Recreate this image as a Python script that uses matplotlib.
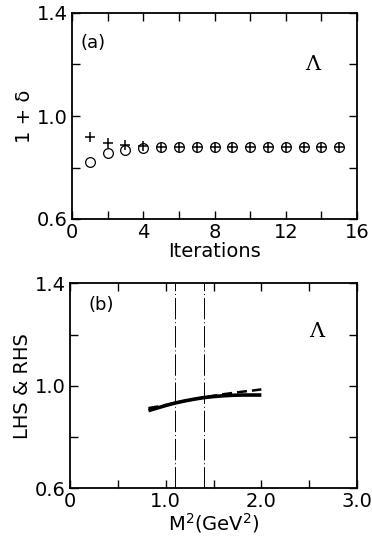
import matplotlib
matplotlib.use("Agg")
import matplotlib.pyplot as plt
from matplotlib.ticker import MultipleLocator, FixedLocator

plt.rcParams['font.family'] = ['DejaVu Sans']

# Panel (a) data
iterations = [1, 2, 3, 4, 5, 6, 7, 8, 9, 10, 11, 12, 13, 14, 15]
plus_vals = [0.920, 0.896, 0.887, 0.883, 0.881, 0.881, 0.881, 0.881, 0.881, 0.881, 0.881, 0.881, 0.881, 0.881, 0.881]
circ_vals = [0.820, 0.857, 0.868, 0.876, 0.881, 0.881, 0.881, 0.881, 0.881, 0.881, 0.881, 0.881, 0.881, 0.881, 0.881]

# Panel (b) data
m2 = [0.82, 0.9, 1.0, 1.1, 1.2, 1.3, 1.4, 1.5, 1.6, 1.7, 1.8, 1.9, 2.0]
lhs_solid = [0.903, 0.912, 0.923, 0.933, 0.941, 0.948, 0.954, 0.958, 0.961, 0.963, 0.964, 0.964, 0.964]
rhs_dashed = [0.913, 0.918, 0.925, 0.933, 0.941, 0.948, 0.955, 0.961, 0.967, 0.972, 0.977, 0.981, 0.986]
vlines_b = [1.1, 1.4]

fig = plt.figure(figsize=(3.72, 5.41), dpi=100)

def style(ax):
    for s in ax.spines.values():
        s.set_linewidth(1.3)
    ax.tick_params(which='both', direction='in', top=True, right=True, width=1.0,
                   labelsize=14, pad=3)
    ax.tick_params(which='major', length=6)
    ax.tick_params(which='minor', length=6)

# (a)
ax1 = fig.add_axes([72/372, 322/541, 285/372, 206/541])
ax1.plot(iterations, circ_vals, linestyle='none', marker='o', mfc='none', mec='black',
         ms=7, mew=0.9)
ax1.plot(iterations, plus_vals, linestyle='none', marker='+', color='black', ms=7, mew=1.1)
ax1.set_xlim(0, 16)
ax1.set_ylim(0.6, 1.4)
ax1.xaxis.set_major_locator(FixedLocator([0, 4, 8, 12, 16]))
ax1.xaxis.set_minor_locator(MultipleLocator(2))
ax1.yaxis.set_major_locator(FixedLocator([0.6, 1.0, 1.4]))
ax1.yaxis.set_minor_locator(MultipleLocator(0.2))
ax1.set_xticklabels(['0', '4', '8', '12', '16'])
ax1.set_yticklabels(['0.6', '1.0', '1.4'])
style(ax1)
ax1.set_xlabel('Iterations', fontsize=14, labelpad=0)
ax1.set_ylabel('1 + δ', fontsize=14, labelpad=2)
ax1.text(1.2, 1.283, '(a)', fontsize=13, ha='center', va='center')
ax1.text(13.5, 1.2, 'Λ', fontsize=15, ha='center', va='center', family='DejaVu Serif')

# (b)
ax2 = fig.add_axes([70/372, 52.7/541, 287/372, 205/541])
ax2.plot(m2, lhs_solid, color='black', lw=2.6, solid_capstyle='butt')
ax2.plot(m2, rhs_dashed, color='black', lw=1.8, linestyle=(0, (4, 2)))
for xv in vlines_b:
    ax2.axvline(xv, color='black', lw=0.7, linestyle=(0, (22, 3, 1, 3)))
ax2.set_xlim(0, 3)
ax2.set_ylim(0.6, 1.4)
ax2.xaxis.set_major_locator(FixedLocator([0, 1, 2, 3]))
ax2.xaxis.set_minor_locator(MultipleLocator(0.5))
ax2.yaxis.set_major_locator(FixedLocator([0.6, 1.0, 1.4]))
ax2.yaxis.set_minor_locator(MultipleLocator(0.2))
ax2.set_xticklabels(['0', '1.0', '2.0', '3.0'])
ax2.set_yticklabels(['0.6', '1.0', '1.4'])
style(ax2)
ax2.set_xlabel('M$^2$(GeV$^2$)', fontsize=14, labelpad=0)
ax2.set_ylabel('LHS & RHS', fontsize=14, labelpad=2)
ax2.text(0.33, 1.315, '(b)', fontsize=13, ha='center', va='center')
ax2.text(2.58, 1.21, 'Λ', fontsize=15, ha='center', va='center', family='DejaVu Serif')

fig.savefig('out.png', dpi=100)
